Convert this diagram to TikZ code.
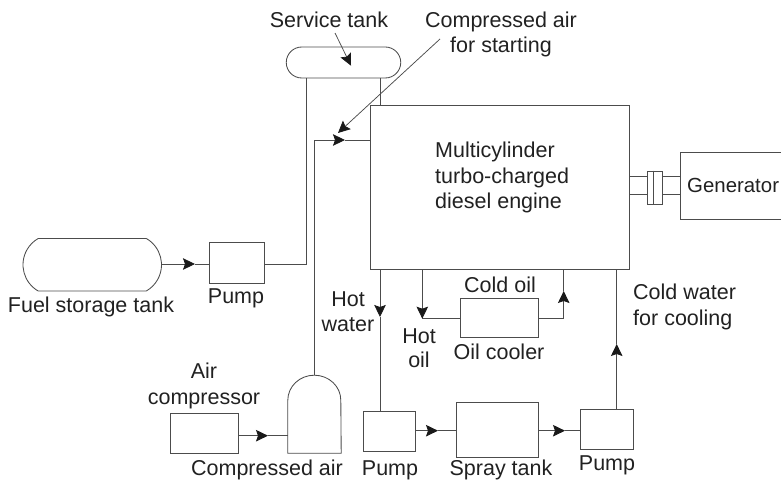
\documentclass[tikz,border=0pt]{standalone}
\usepackage{fontspec}
\setmainfont{Liberation Sans}
\usetikzlibrary{arrows.meta,shapes.misc,calc}
\definecolor{ln}{gray}{0.3}
\definecolor{tx}{gray}{0.13}
\tikzset{
  x=1pt,y=-1pt,
  pipe/.style={draw=ln,line width=0.85pt},
  tip/.style={-{Stealth[length=12pt,width=11.5pt,inset=2pt,color=black!90]},shorten >=0pt},
  boxn/.style={draw=ln,line width=0.85pt,rectangle,inner sep=0pt,minimum width=#1},
  boxn/.default=50pt,
  tankn/.style={draw=ln,line width=0.85pt,rounded rectangle,inner sep=0pt},
  lab/.style={font=\fontsize{21.5pt}{24pt}\selectfont,text=tx,anchor=base,inner sep=0pt},
  labl/.style={lab,anchor=base west},
}
\begin{document}
\begin{tikzpicture}
\useasboundingbox (0,0) rectangle (781,481);
% equipment
\node[tankn,minimum width=114.5pt,minimum height=31pt] (service) at (343.5,62.5) {};
\node[tankn,rounded rectangle arc length=120,minimum width=138.5pt,minimum height=52.5pt] (fuel) at (92.25,264.75) {};
\node[boxn=54.5pt,minimum height=41pt] (pumpa) at (236.75,262.5) {};
\node[boxn=259pt,minimum height=164pt] (engine) at (499.5,187) {};
\node[boxn=102pt,minimum height=67pt] (gen) at (731,185.5) {};
\node[boxn=14.7pt,minimum height=33pt] (coupling) at (654.6,187.5) {};
\node[boxn=78.5pt,minimum height=39pt] (cooler) at (499.25,317.5) {};
\node[boxn=52.4pt,minimum height=40pt] (pumpb) at (389.5,431) {};
\node[boxn=81.3pt,minimum height=54.3pt] (spray) at (497.35,429.85) {};
\node[boxn=52.4pt,minimum height=40pt] (pumpc) at (606.9,429) {};
\node[boxn=68pt,minimum height=40pt] (compressor) at (204,433) {};
\node[minimum width=53pt,minimum height=53pt,inner sep=0pt] (receiver) at (314.5,426.5) {};
\draw[pipe] (receiver.south west) -- ++(0,-53) arc[start angle=180,end angle=0,x radius=26.5pt,y radius=25pt] -- (receiver.south east) -- cycle;
\coordinate (receivertop) at (314.4,375);
% shaft and coupling
\draw[pipe] (coupling.north)++(-1.6,0) -- ($(coupling.south)+(-1.6,0)$);
\draw[pipe] (engine.east |- 0,176.7) -- (coupling.west |- 0,176.7);
\draw[pipe] (engine.east |- 0,194) -- (coupling.west |- 0,194);
\draw[pipe] (coupling.east |- 0,176.7) -- (gen.west |- 0,176.7);
\draw[pipe] (coupling.east |- 0,194) -- (gen.west |- 0,194);
% fuel line
\coordinate (ta) at (195,264);
\draw[pipe,tip] (fuel.east |- ta) -- (ta);
\draw[pipe] (ta) -- (pumpa.west |- ta);
\coordinate (fa) at (306.7,264);
\draw[pipe] (pumpa.east |- ta) -- (fa) -- (fa |- service.south);
\draw[pipe] (380,78) -- (380,105);
% starting air
\coordinate (tb) at (345,140);
\coordinate (ab) at (314.4,140);
\draw[pipe] (receivertop) -- (ab);
\draw[pipe,tip] (ab) -- (tb);
\draw[pipe] (tb) -- (engine.west |- tb);
\coordinate (ca) at (440,39);
\coordinate (cb) at (338,133);
\draw[ln,line width=0.75pt,tip] (ca) -- (cb);
\coordinate (sa) at (335,33);
\coordinate (sb) at (351,65.7);
\draw[ln,line width=0.75pt,tip] (sa) -- (sb);
% water
\coordinate (tc) at (380,317);
\draw[pipe,tip] (380,269) -- (tc);
\draw[pipe] (tc) -- (tc |- pumpb.north);
\coordinate (td) at (438,430.7);
\draw[pipe,tip] (pumpb.east |- td) -- (td);
\draw[pipe] (td) -- (spray.west |- td);
\coordinate (te) at (565,430.7);
\draw[pipe,tip] (spray.east |- te) -- (te);
\draw[pipe] (te) -- (pumpc.west |- te);
\coordinate (tf) at (616.7,344);
\draw[pipe,tip] (tf |- pumpc.north) -- (tf);
\draw[pipe] (tf) -- (616.7,269);
% oil
\coordinate (tg) at (422.3,318.7);
\draw[pipe,tip] (422.3,269) -- (tg);
\draw[pipe] (tg) -- (cooler.west |- tg);
\coordinate (th) at (563.7,291);
\draw[pipe,tip] (cooler.east |- tg) -- (563.7,318.7) -- (th);
\draw[pipe] (th) -- (563.7,269);
% air
\coordinate (ti) at (268,435.7);
\draw[pipe,tip] (compressor.east |- ti) -- (ti);
\draw[pipe] (ti) -- (receiver.west |- ti);
% labels
\node[lab] (l1) at (329,28) {Service tank};
\node[lab] (l2) at (501,28) {Compressed air};
\node[lab] (l3) at (501,53) {for starting};
\node[labl] (l4) at (435,158) {Multicylinder};
\node[labl] (l5) at (435,183) {turbo-charged};
\node[labl] (l6) at (435,208) {diesel engine};
\node[labl,font=\fontsize{20.4pt}{24pt}\selectfont] (l7) at (687,193) {Generator};
\node[lab] (l8) at (500,292) {Cold oil};
\node[lab] (l9) at (499,359) {Oil cooler};
\node[lab] (l10) at (419,343) {Hot};
\node[lab] (l11) at (419,367) {oil};
\node[lab] (l12) at (348,306) {Hot};
\node[lab] (l13) at (348,331) {water};
\node[labl] (l14) at (633,299) {Cold water};
\node[labl] (l15) at (633,325) {for cooling};
\node[lab] (l16) at (91,312) {Fuel storage tank};
\node[lab] (l17) at (236,303) {Pump};
\node[lab] (l18) at (204,378) {Air};
\node[lab] (l19) at (204,404) {compressor};
\node[lab] (l20) at (267,475.5) {Compressed air};
\node[lab] (l21) at (390,475.5) {Pump};
\node[lab] (l22) at (501,475.5) {Spray tank};
\node[lab] (l23) at (607,470) {Pump};
\end{tikzpicture}
\end{document}
